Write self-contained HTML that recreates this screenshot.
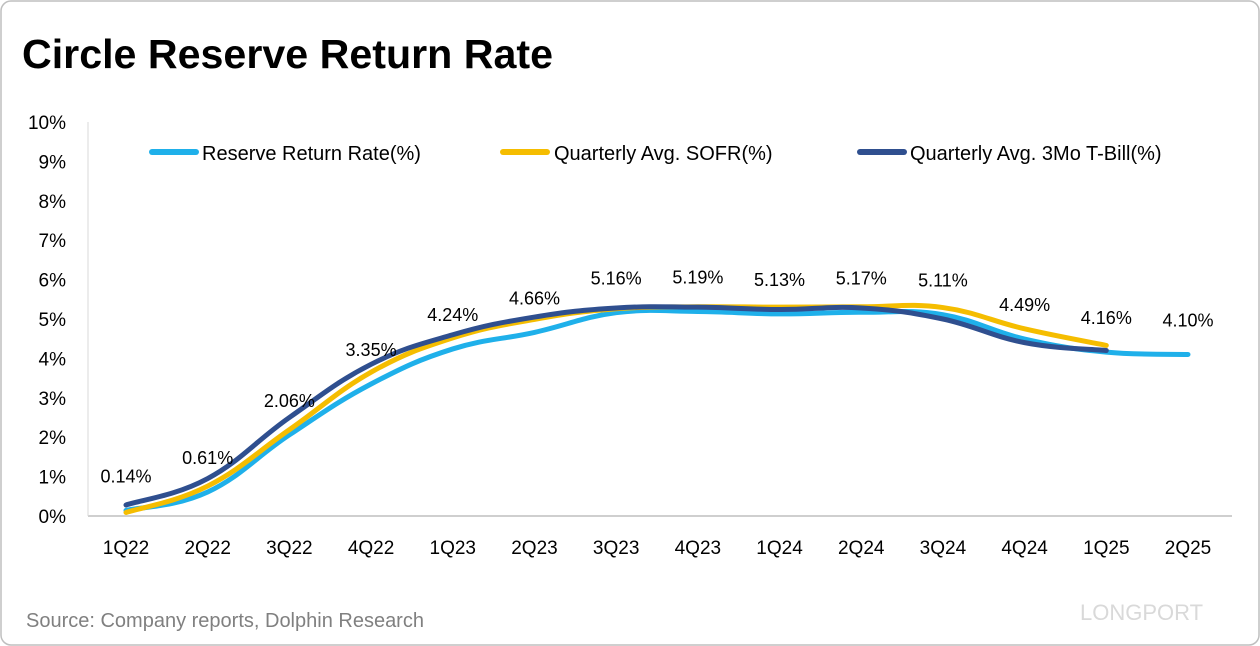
<!DOCTYPE html>
<html><head><meta charset="utf-8"><style>
body{margin:0;background:#fff;}
#wrap{position:relative;width:1260px;height:646px;overflow:hidden;}
svg{position:absolute;left:0;top:0;}
text{font-family:"Liberation Sans","Noto Sans CJK SC",sans-serif;}
</style></head><body>
<div id="wrap">
<svg id="chart" width="1260" height="646">
<rect x="1" y="1" width="1258" height="644" rx="10" fill="#fff" stroke="#bfbfbf" stroke-width="1.5"/>
<text x="22" y="68" font-size="41" font-weight="bold" fill="#000" textLength="531" lengthAdjust="spacingAndGlyphs">Circle Reserve Return Rate</text>
<text x="26" y="627" font-size="20" fill="#808080">Source: Company reports, Dolphin Research</text>
<text x="1080" y="620" font-size="22" fill="#d9d9d9">LONGPORT</text>
<g id="axes"></g>
<g id="series"></g>
<g id="labels"></g>
<g>
<line x1="152" y1="152" x2="196" y2="152" stroke="#1fb0ea" stroke-width="6" stroke-linecap="round"/>
<text x="202" y="160" font-size="20" fill="#000">Reserve Return Rate(%)</text>
<line x1="503" y1="152" x2="547" y2="152" stroke="#f5bd00" stroke-width="6" stroke-linecap="round"/>
<text x="554" y="160" font-size="20" fill="#000">Quarterly Avg. SOFR(%)</text>
<line x1="860" y1="152" x2="904" y2="152" stroke="#2f4f8f" stroke-width="6" stroke-linecap="round"/>
<text x="910" y="160" font-size="20" fill="#000">Quarterly Avg. 3Mo T-Bill(%)</text>
</g>
</svg>
</div>
<script>
const categories=["1Q22","2Q22","3Q22","4Q22","1Q23","2Q23","3Q23","4Q23","1Q24","2Q24","3Q24","4Q24","1Q25","2Q25"];
const reserveValues=[0.14,0.61,2.06,3.35,4.24,4.66,5.16,5.19,5.13,5.17,5.11,4.49,4.16,4.10];
const reserveLabels=["0.14%","0.61%","2.06%","3.35%","4.24%","4.66%","5.16%","5.19%","5.13%","5.17%","5.11%","4.49%","4.16%","4.10%"];
const sofrValues=[0.09,0.76,2.19,3.65,4.52,4.99,5.26,5.31,5.30,5.31,5.29,4.75,4.33];
const tbillValues=[0.28,0.95,2.5,3.85,4.6,5.05,5.28,5.3,5.24,5.28,5.0,4.4,4.2];
const yTicks=[0,1,2,3,4,5,6,7,8,9,10];
const NS="http://www.w3.org/2000/svg";
const x=i=>126+i*(1188-126)/(categories.length-1);
const y=v=>516-v*39.4;
function mk(tag,attrs,parent){const e=document.createElementNS(NS,tag);for(const k in attrs)e.setAttribute(k,attrs[k]);parent.appendChild(e);return e;}
const axes=document.getElementById('axes');
const al=mk('line',{x1:88,y1:516,x2:1232,y2:516,stroke:'#bfbfbf','stroke-width':1.5},axes);


const yl=mk('line',{x1:88,y1:122,x2:88,y2:516,stroke:'#d9d9d9','stroke-width':1},axes);


yTicks.forEach(t=>{const e=mk('text',{x:66,y:y(t)+7,'font-size':19,'text-anchor':'end',fill:'#000'},axes);e.textContent=t+'%';

});
categories.forEach((c,i)=>{const e=mk('text',{x:x(i),y:554,'font-size':19,'text-anchor':'middle',fill:'#000'},axes);e.textContent=c;

});
function path(vals){const p=vals.map((v,i)=>[x(i),y(v)]);let d='M'+p[0][0]+','+p[0][1];
for(let i=0;i<p.length-1;i++){const p0=p[i-1]||p[i],p1=p[i],p2=p[i+1],p3=p[i+2]||p2;const t=0.2;
d+=' C'+(p1[0]+(p2[0]-p0[0])*t)+','+(p1[1]+(p2[1]-p0[1])*t)+' '+(p2[0]-(p3[0]-p1[0])*t)+','+(p2[1]-(p3[1]-p1[1])*t)+' '+p2[0]+','+p2[1];}return d;}
const S=document.getElementById('series');
const l1=mk('path',{d:path(reserveValues),fill:'none',stroke:'#1fb0ea','stroke-width':5,'stroke-linecap':'round'},S);


const l2=mk('path',{d:path(sofrValues),fill:'none',stroke:'#f5bd00','stroke-width':5,'stroke-linecap':'round'},S);


const l3=mk('path',{d:path(tbillValues),fill:'none',stroke:'#2f4f8f','stroke-width':5,'stroke-linecap':'round'},S);


const L=document.getElementById('labels');
reserveValues.forEach((v,i)=>{const e=mk('text',{x:x(i),y:y(v)-28,'font-size':18,'text-anchor':'middle',fill:'#000'},L);e.textContent=reserveLabels[i];

});
</script>
</body></html>
